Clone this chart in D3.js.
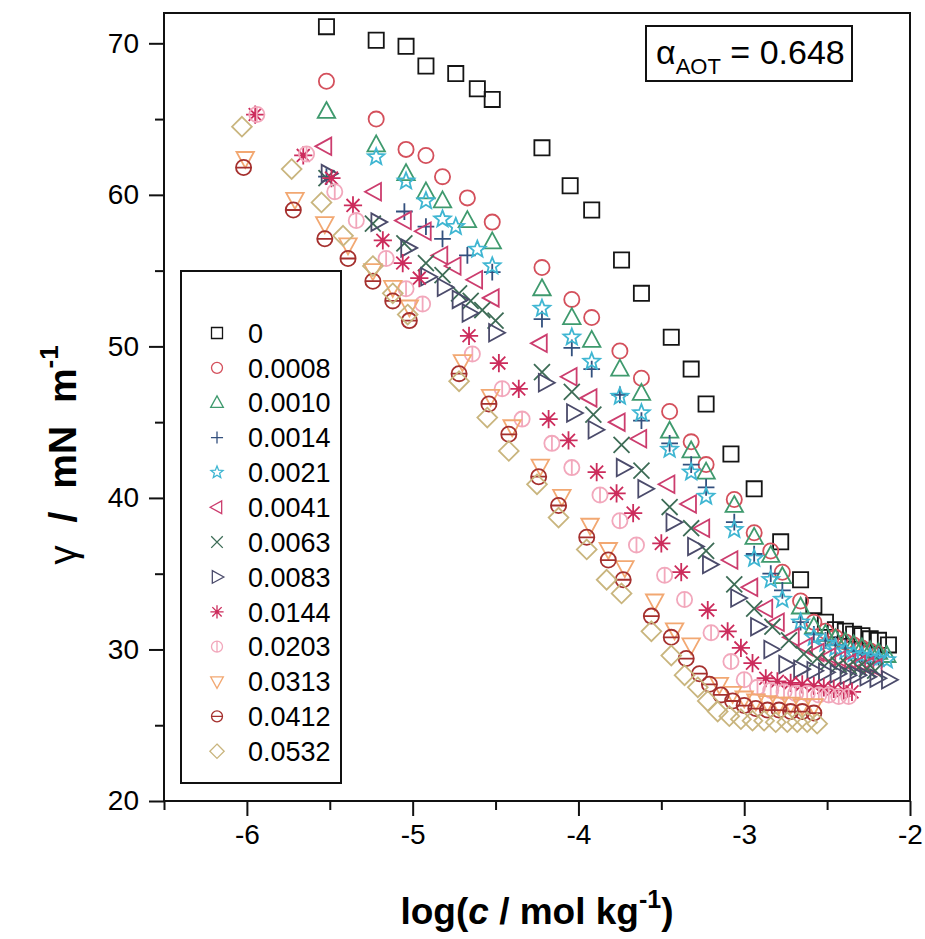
<!DOCTYPE html>
<html><head><meta charset="utf-8">
<script src="https://cdn.jsdelivr.net/npm/d3@7"></script>
<style>body{margin:0;background:#fff}svg{display:block}text{font-family:"Liberation Sans",Arial,sans-serif;fill:#000}</style>
</head><body><svg id="c" width="925" height="939"></svg>
<script>
// ---- data ----
const seriesLabels = ["0","0.0008","0.0010","0.0014","0.0021","0.0041","0.0063","0.0083","0.0144","0.0203","0.0313","0.0412","0.0532"];
const seriesColors = ["#151515","#d4505c","#3f9a6e","#33507e","#3fb6d2","#cc3d6e","#3d6c56","#4b4b6b","#cc2c5c","#f2a8bc","#f2a872","#a5302e","#c9b57e"];
const seriesShapes = ["square","circle","triUp","plus","star","triLeft","cross","triRight","asterisk","circleV","triDown","circleH","diamond"];

const x_0 = [-5.52,-5.22,-5.04,-4.92,-4.74,-4.61,-4.52,-4.22,-4.05,-3.92,-3.74,-3.62,-3.44,-3.32,-3.23,-3.08,-2.94,-2.78,-2.66,-2.58,-2.51,-2.45,-2.39,-2.34,-2.29,-2.24,-2.19,-2.13];
const y_0 = [71.1,70.2,69.8,68.5,68.0,67.0,66.3,63.1,60.6,59.0,55.7,53.5,50.6,48.5,46.2,42.9,40.6,37.1,34.6,32.9,31.8,31.3,31.2,31.0,30.9,30.7,30.6,30.3];

const x_0008 = [-5.52,-5.22,-5.04,-4.92,-4.82,-4.67,-4.52,-4.22,-4.04,-3.92,-3.75,-3.62,-3.45,-3.32,-3.23,-3.06,-2.94,-2.84,-2.77,-2.66,-2.58,-2.51,-2.45,-2.39,-2.34,-2.29,-2.24,-2.19];
const y_0008 = [67.5,65.0,63.0,62.6,61.2,59.8,58.2,55.2,53.1,51.9,49.7,47.9,45.7,43.7,42.2,39.9,37.7,36.5,35.1,33.2,31.8,31.2,30.8,30.5,30.3,30.1,29.9,29.7];

const x_0010 = [-5.52,-5.22,-5.04,-4.92,-4.82,-4.67,-4.52,-4.22,-4.04,-3.92,-3.75,-3.62,-3.45,-3.32,-3.23,-3.06,-2.94,-2.84,-2.77,-2.66,-2.58,-2.51,-2.45,-2.39,-2.34,-2.29,-2.24,-2.19,-2.14];
const y_0010 = [65.5,63.3,61.4,60.2,59.6,58.3,56.9,53.8,51.9,50.4,48.5,46.9,44.4,43.1,41.7,39.5,37.4,36.2,34.8,32.8,31.5,31.0,30.7,30.5,30.3,30.1,29.9,29.8,29.6];

const x_0014 = [-5.52,-5.05,-4.92,-4.82,-4.67,-4.52,-4.22,-4.04,-3.92,-3.75,-3.62,-3.45,-3.32,-3.23,-3.06,-2.94,-2.84,-2.77,-2.66,-2.58,-2.51,-2.45,-2.39,-2.34,-2.29,-2.24,-2.19];
const y_0014 = [61.2,58.9,57.9,57.1,56.0,54.9,51.8,49.9,48.5,46.8,45.1,43.6,42.2,40.7,38.4,36.3,35.0,33.9,31.8,31.0,30.6,30.3,30.1,29.9,29.7,29.6,29.5];

const x_0021 = [-5.22,-5.04,-4.92,-4.82,-4.74,-4.61,-4.52,-4.22,-4.04,-3.92,-3.75,-3.62,-3.45,-3.32,-3.23,-3.06,-2.94,-2.84,-2.77,-2.66,-2.58,-2.51,-2.45,-2.39,-2.34,-2.29,-2.24,-2.19,-2.14];
const y_0021 = [62.5,60.9,59.6,58.4,57.9,56.4,55.3,52.5,50.6,49.0,46.7,45.6,43.2,41.7,40.1,37.9,36.0,34.6,33.3,31.8,30.8,30.4,30.1,29.9,29.7,29.6,29.5,29.4,29.3];

const x_0041 = [-5.53,-5.23,-5.05,-4.93,-4.83,-4.75,-4.62,-4.52,-4.23,-4.05,-3.93,-3.76,-3.63,-3.46,-3.33,-3.25,-3.08,-2.96,-2.87,-2.80,-2.71,-2.63,-2.56,-2.49,-2.43,-2.37,-2.31,-2.26,-2.21];
const y_0041 = [63.2,60.2,58.3,57.6,56.0,55.3,54.4,53.2,50.2,48.0,46.6,45.0,43.9,40.9,39.6,38.0,35.9,34.1,32.7,31.8,30.8,30.2,29.8,29.5,29.3,29.1,29.0,28.9,28.8];

const x_0063 = [-5.52,-5.24,-5.05,-4.92,-4.82,-4.72,-4.65,-4.58,-4.50,-4.22,-4.04,-3.91,-3.74,-3.62,-3.45,-3.32,-3.23,-3.06,-2.94,-2.83,-2.73,-2.64,-2.56,-2.49,-2.43,-2.37,-2.31,-2.26,-2.21];
const y_0063 = [61.1,58.1,56.8,55.5,54.7,53.5,53.0,52.4,51.7,48.3,47.0,45.5,43.5,41.8,39.4,38.0,36.5,34.3,32.7,31.5,30.6,29.7,29.4,29.2,29.0,28.9,28.8,28.7,28.6];

const x_0083 = [-5.51,-5.21,-5.03,-4.91,-4.81,-4.72,-4.66,-4.50,-4.20,-4.03,-3.90,-3.73,-3.60,-3.43,-3.30,-3.21,-3.04,-2.92,-2.84,-2.75,-2.66,-2.58,-2.51,-2.44,-2.38,-2.32,-2.26,-2.20,-2.13];
const y_0083 = [61.4,58.2,56.5,54.6,53.9,53.1,52.2,50.9,47.6,45.6,44.5,42.0,40.6,38.4,36.8,35.6,33.4,31.5,30.0,29.0,28.7,28.6,28.5,28.4,28.3,28.3,28.2,28.1,28.0];

const x_0144 = [-5.95,-5.66,-5.49,-5.36,-5.18,-5.06,-4.96,-4.66,-4.48,-4.36,-4.18,-4.06,-3.89,-3.77,-3.67,-3.50,-3.38,-3.22,-3.10,-3.02,-2.95,-2.87,-2.80,-2.72,-2.65,-2.58,-2.52,-2.46,-2.40,-2.35];
const y_0144 = [65.3,62.6,61.1,59.3,57.0,55.5,54.5,50.7,48.9,47.2,45.2,43.8,41.7,40.3,39.0,37.0,35.1,32.6,31.2,30.1,29.1,28.1,27.9,27.8,27.7,27.6,27.5,27.4,27.3,27.2];

const x_0203 = [-5.94,-5.64,-5.47,-5.34,-5.16,-5.04,-4.94,-4.64,-4.46,-4.34,-4.16,-4.04,-3.87,-3.75,-3.65,-3.48,-3.36,-3.20,-3.08,-3.00,-2.92,-2.84,-2.76,-2.69,-2.62,-2.55,-2.49,-2.43,-2.37];
const y_0203 = [65.3,62.7,60.2,58.3,55.8,53.8,52.8,49.5,47.2,45.2,43.6,42.0,40.2,38.5,36.9,34.9,33.3,31.1,29.2,28.0,27.5,27.3,27.2,27.1,27.1,27.0,27.0,26.9,26.9];

const x_0313 = [-6.01,-5.71,-5.53,-5.39,-5.24,-5.12,-5.02,-4.70,-4.53,-4.40,-4.23,-4.10,-3.93,-3.82,-3.72,-3.54,-3.42,-3.32,-3.15,-3.07,-3.00,-2.93,-2.86,-2.79,-2.72,-2.65,-2.58];
const y_0313 = [62.4,59.7,58.1,56.7,55.0,53.9,52.6,49.0,46.7,44.7,42.1,40.1,38.2,36.6,35.4,33.2,31.3,30.3,27.7,27.1,26.8,26.6,26.5,26.4,26.4,26.3,26.3];

const x_0412 = [-6.02,-5.72,-5.53,-5.39,-5.24,-5.12,-5.02,-4.72,-4.54,-4.42,-4.24,-4.12,-3.95,-3.82,-3.73,-3.56,-3.44,-3.35,-3.27,-3.21,-3.14,-3.07,-3.00,-2.93,-2.86,-2.79,-2.72,-2.65,-2.58];
const y_0412 = [61.8,59.0,57.1,55.8,54.3,53.0,51.7,48.2,46.2,44.2,41.4,39.5,37.4,35.9,34.6,32.2,30.8,29.4,28.4,27.7,27.0,26.6,26.3,26.1,26.0,26.0,25.9,25.9,25.8];

const x_0532 = [-6.03,-5.73,-5.55,-5.42,-5.24,-5.12,-5.03,-4.72,-4.55,-4.42,-4.25,-4.12,-3.95,-3.83,-3.74,-3.56,-3.44,-3.36,-3.28,-3.22,-3.16,-3.09,-3.02,-2.95,-2.88,-2.81,-2.74,-2.68,-2.62,-2.56];
const y_0532 = [64.5,61.7,59.5,57.3,55.3,53.5,52.1,47.7,45.3,43.1,40.9,38.7,36.6,34.6,33.7,31.2,29.6,28.3,27.5,26.6,25.9,25.6,25.4,25.3,25.3,25.2,25.2,25.2,25.2,25.1];

const xValues = [x_0,x_0008,x_0010,x_0014,x_0021,x_0041,x_0063,x_0083,x_0144,x_0203,x_0313,x_0412,x_0532];
const yValues = [y_0,y_0008,y_0010,y_0014,y_0021,y_0041,y_0063,y_0083,y_0144,y_0203,y_0313,y_0412,y_0532];

const xMajorTicks = [-6,-5,-4,-3,-2];
const xMinorTicks = [-6.5,-5.5,-4.5,-3.5,-2.5];
const yMajorTicks = [20,30,40,50,60,70];
const yMinorTicks = [25,35,45,55,65];

// ---- layout ----
const L = 164, R = 910, T = 13, B = 801;
const svg = d3.select("#c");
const x = d3.scaleLinear().domain([-6.5,-2]).range([L,R]);
const y = d3.scaleLinear().domain([20,72]).range([B,T]);

function shapePath(type, s){
  const p = d3.path();
  const circ = r => { p.moveTo(r,0); p.arc(0,0,r,0,2*Math.PI); };
  switch(type){
    case "square": p.rect(-s,-s,2*s,2*s); break;
    case "circle": circ(s); break;
    case "circleV": circ(s); p.moveTo(0,-s); p.lineTo(0,s); break;
    case "circleH": circ(s); p.moveTo(-s,0); p.lineTo(s,0); break;
    case "triUp": p.moveTo(0,-s*1.25); p.lineTo(s*1.15,s*0.85); p.lineTo(-s*1.15,s*0.85); p.closePath(); break;
    case "triDown": p.moveTo(0,s*1.25); p.lineTo(s*1.15,-s*0.85); p.lineTo(-s*1.15,-s*0.85); p.closePath(); break;
    case "triLeft": p.moveTo(-s*1.25,0); p.lineTo(s*0.85,-s*1.15); p.lineTo(s*0.85,s*1.15); p.closePath(); break;
    case "triRight": p.moveTo(s*1.25,0); p.lineTo(-s*0.85,-s*1.15); p.lineTo(-s*0.85,s*1.15); p.closePath(); break;
    case "plus": p.moveTo(-s*1.1,0); p.lineTo(s*1.1,0); p.moveTo(0,-s*1.1); p.lineTo(0,s*1.1); break;
    case "cross": p.moveTo(-s*1.05,-s*1.05); p.lineTo(s*1.05,s*1.05); p.moveTo(-s*1.05,s*1.05); p.lineTo(s*1.05,-s*1.05); break;
    case "diamond": p.moveTo(0,-s*1.3); p.lineTo(s*1.3,0); p.lineTo(0,s*1.3); p.lineTo(-s*1.3,0); p.closePath(); break;
    case "asterisk": for(let k=0;k<4;k++){const a=k*Math.PI/4; p.moveTo(-Math.cos(a)*s*1.2,-Math.sin(a)*s*1.2); p.lineTo(Math.cos(a)*s*1.2,Math.sin(a)*s*1.2);} break;
    case "star": {
      const ro=s*1.15, ri=s*0.5;
      for(let k=0;k<10;k++){const r=k%2?ri:ro; const a=-Math.PI/2+k*Math.PI/5; const px=Math.cos(a)*r, py=Math.sin(a)*r; if(k===0)p.moveTo(px,py); else p.lineTo(px,py);} p.closePath(); break;
    }
  }
  return p.toString();
}

function drawMarker(g, type, color, s, sw){
  g.append("path").attr("d", shapePath(type,s)).attr("fill","none").attr("stroke",color).attr("stroke-width",sw).attr("stroke-linejoin","miter");
  if(type==="asterisk") g.append("circle").attr("r",s*0.3).attr("fill",color);
}

// ---- data marks ----
const marks = svg.append("g");
seriesLabels.forEach((lab,i)=>{
  const gs = marks.append("g").attr("class","series");
  xValues[i].forEach((xv,j)=>{
    const g = gs.append("g").attr("transform",`translate(${x(xv)},${y(yValues[i][j])})`);
    drawMarker(g, seriesShapes[i], seriesColors[i], 7.6, 1.8);
  });
});

// ---- frame & axes ----
svg.append("rect").attr("x",L).attr("y",T).attr("width",R-L).attr("height",B-T).attr("fill","none").attr("stroke","#111").attr("stroke-width",2);

const fmt = d => String(d);
const xAxis = svg.append("g").attr("transform",`translate(0,${B})`)
  .call(d3.axisBottom(x).tickValues(xMajorTicks).tickFormat(fmt).tickSize(15).tickPadding(8).tickSizeOuter(0));
const xAxisMinor = svg.append("g").attr("transform",`translate(0,${B})`)
  .call(d3.axisBottom(x).tickValues(xMinorTicks).tickFormat("").tickSize(9).tickSizeOuter(0));
const yAxis = svg.append("g").attr("transform",`translate(${L},0)`)
  .call(d3.axisLeft(y).tickValues(yMajorTicks).tickFormat(fmt).tickSize(15).tickPadding(10).tickSizeOuter(0));
const yAxisMinor = svg.append("g").attr("transform",`translate(${L},0)`)
  .call(d3.axisLeft(y).tickValues(yMinorTicks).tickFormat("").tickSize(9).tickSizeOuter(0));
[xAxis,xAxisMinor,yAxis,yAxisMinor].forEach(a=>{
  a.select(".domain").remove();
  a.selectAll(".tick line").attr("stroke","#111").attr("stroke-width",2);
  a.selectAll("text").style("font-size","28px").attr("fill","#000");
});

// ---- axis titles ----
const xt = svg.append("text").attr("x",(L+R)/2).attr("y",924).attr("text-anchor","middle")
  .style("font-size","37px").style("font-weight","bold");
xt.append("tspan").text("log(");
xt.append("tspan").style("font-style","italic").text("c");
xt.append("tspan").text(" / mol kg");
xt.append("tspan").attr("dy",-16).style("font-size","25px").text("-1");
xt.append("tspan").attr("dy",16).text(")");

const yt = svg.append("text").attr("transform","translate(76,455) rotate(-90)").attr("text-anchor","middle")
  .style("font-size","39px").style("font-weight","bold").style("word-spacing","12px");
yt.append("tspan").style("font-weight","normal").text("γ");
yt.append("tspan").text(" / mN m");
yt.append("tspan").attr("dy",-18).style("font-size","26px").text("-1");

// ---- alpha box ----
svg.append("rect").attr("x",646).attr("y",26).attr("width",206).attr("height",55).attr("fill","#fff").attr("stroke","#111").attr("stroke-width",2);
const at = svg.append("text").attr("x",656).attr("y",64).style("font-size","34px");
at.append("tspan").text("α");
at.append("tspan").attr("dy",10).style("font-size","22px").text("AOT");
at.append("tspan").attr("dy",-10).text(" = 0.648");

// ---- legend ----
const leg = svg.append("g");
leg.append("rect").attr("x",181).attr("y",271).attr("width",160).attr("height",512).attr("fill","#fff").attr("stroke","#111").attr("stroke-width",2);
seriesLabels.forEach((lab,i)=>{
  const cy = 333 + i*34.85;
  const g = leg.append("g").attr("transform",`translate(217,${cy})`);
  drawMarker(g, seriesShapes[i], seriesColors[i], 5.5, 1.3);
  leg.append("text").attr("x",248).attr("y",cy).attr("dy","0.36em").style("font-size","27px").text(lab);
});
</script></body></html>
